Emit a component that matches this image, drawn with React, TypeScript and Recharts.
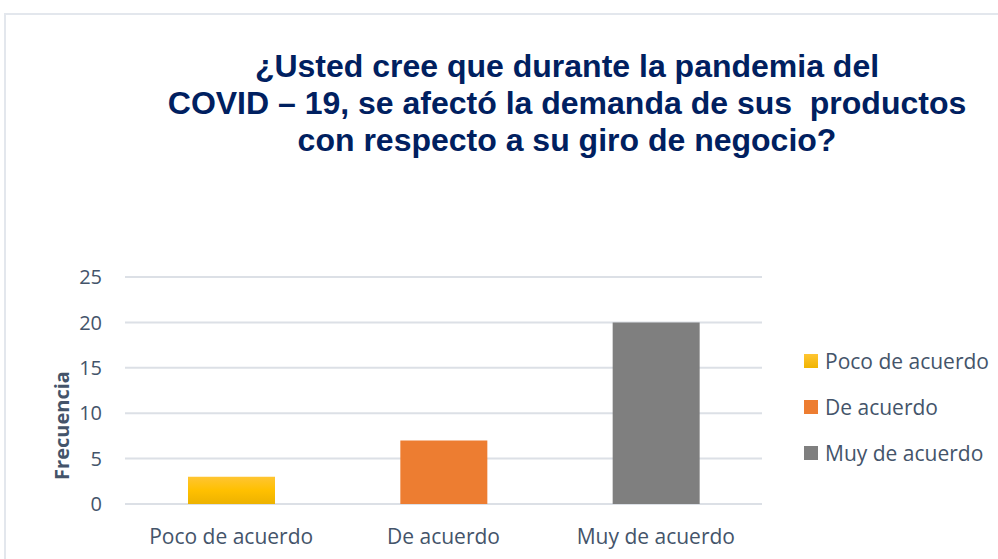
import { BarChart, Bar, XAxis, YAxis, CartesianGrid, Legend, Label } from 'recharts'

const categories = ['Poco de acuerdo', 'De acuerdo', 'Muy de acuerdo']
const frecuencias = [3, 7, 20]
const colores = ['url(#gradAmarillo)', '#ED7D31', '#7F7F7F']
const coloresLeyenda = ['#FFC000', '#ED7D31', '#7F7F7F']
const yTicks = [0, 5, 10, 15, 20, 25]
const titleLines = [
  '¿Usted cree que durante la pandemia del',
  'COVID – 19, se afectó la demanda de sus  productos',
  'con respecto a su giro de negocio?'
]

// one key per category, stacked so each bar sits centred in its own slot
const chartData = categories.map((cat, i) => {
  const row: Record<string, string | number> = { name: cat }
  categories.forEach((c, j) => {
    row[c] = i === j ? frecuencias[i] : 0
  })
  return row
})

const tickFont = '"Open Sans", "Noto Sans", sans-serif'
const textColor = '#44546A'

function LegendContent(props: any) {
  const payload = [...(props.payload || [])].sort(
    (a: any, b: any) => categories.indexOf(a.value) - categories.indexOf(b.value)
  )
  return (
    <div style={{ fontFamily: tickFont, fontSize: 21, color: textColor }}>
      {payload.map((entry: any) => {
        const i = categories.indexOf(entry.value)
        return (
          <div key={entry.value} style={{ display: 'flex', alignItems: 'center', height: 46 }}>
            <span
              style={{
                display: 'inline-block',
                width: 14,
                height: 14,
                marginRight: 7,
                background: i === 0 ? 'linear-gradient(#FFC532, #F0B400)' : coloresLeyenda[i]
              }}
            />
            <span>{entry.value}</span>
          </div>
        )
      })}
    </div>
  )
}

export default function App() {
  return (
    <div style={{ position: 'absolute', left: 0, top: 0, width: 998, height: 559, background: '#fff', overflow: 'hidden' }}>
      <div
        style={{
          position: 'absolute',
          left: 4,
          top: 13,
          width: 1000,
          height: 560,
          border: '2px solid #E3E7ED',
          boxSizing: 'border-box'
        }}
      />
      <div
        style={{
          position: 'absolute',
          left: 117,
          top: 48,
          width: 900,
          textAlign: 'center',
          fontFamily: '"Liberation Sans", Arial, sans-serif',
          fontWeight: 'bold',
          fontSize: 32,
          lineHeight: '37px',
          color: '#002060'
        }}
      >
        {titleLines.map((l) => (
          <div key={l} style={{ whiteSpace: 'pre' }}>{l}</div>
        ))}
      </div>
      <div style={{ position: 'absolute', left: 0, top: 0 }}>
        <BarChart
          width={998}
          height={559}
          data={chartData}
          margin={{ top: 277, right: 42, left: 0, bottom: 0 }}
        >
          <defs>
            <linearGradient id="gradAmarillo" x1="0" y1="0" x2="0" y2="1">
              <stop offset="0%" stopColor="#FFC532" />
              <stop offset="50%" stopColor="#FFC000" />
              <stop offset="100%" stopColor="#EDB200" />
            </linearGradient>
          </defs>
          <CartesianGrid vertical={false} stroke="#DCE0E6" strokeWidth={2} />
          <XAxis
            dataKey="name"
            axisLine={false}
            tickLine={false}
            height={55}
            tickMargin={19}
            tick={{ fill: textColor, fontSize: 21, fontFamily: tickFont }}
          />
          <YAxis
            domain={[0, 25]}
            ticks={yTicks}
            axisLine={false}
            tickLine={false}
            width={125}
            tickMargin={17}
            tick={{ fill: textColor, fontSize: 20, fontFamily: tickFont }}
          >
            <Label
              content={(p: any) => {
                const vb = p.viewBox
                const x = vb.x + 61
                const y = vb.y + vb.height / 2 + 35
                return (
                  <text
                    x={x}
                    y={y}
                    transform={`rotate(-90, ${x}, ${y})`}
                    textAnchor="middle"
                    dominantBaseline="central"
                    fill={textColor}
                    fontFamily={tickFont}
                    fontWeight="bold"
                    fontSize={20}
                  >
                    Frecuencia
                  </text>
                )
              }}
            />
          </YAxis>
          <Legend
            layout="vertical"
            align="right"
            verticalAlign="top"
            content={<LegendContent />}
            wrapperStyle={{ left: 804, top: 338, width: 194 }}
          />
          {categories.map((c, i) => (
            <Bar
              key={c}
              dataKey={c}
              stackId="a"
              fill={colores[i]}
              barSize={87}
              isAnimationActive={false}
            />
          ))}
        </BarChart>
      </div>
    </div>
  )
}
